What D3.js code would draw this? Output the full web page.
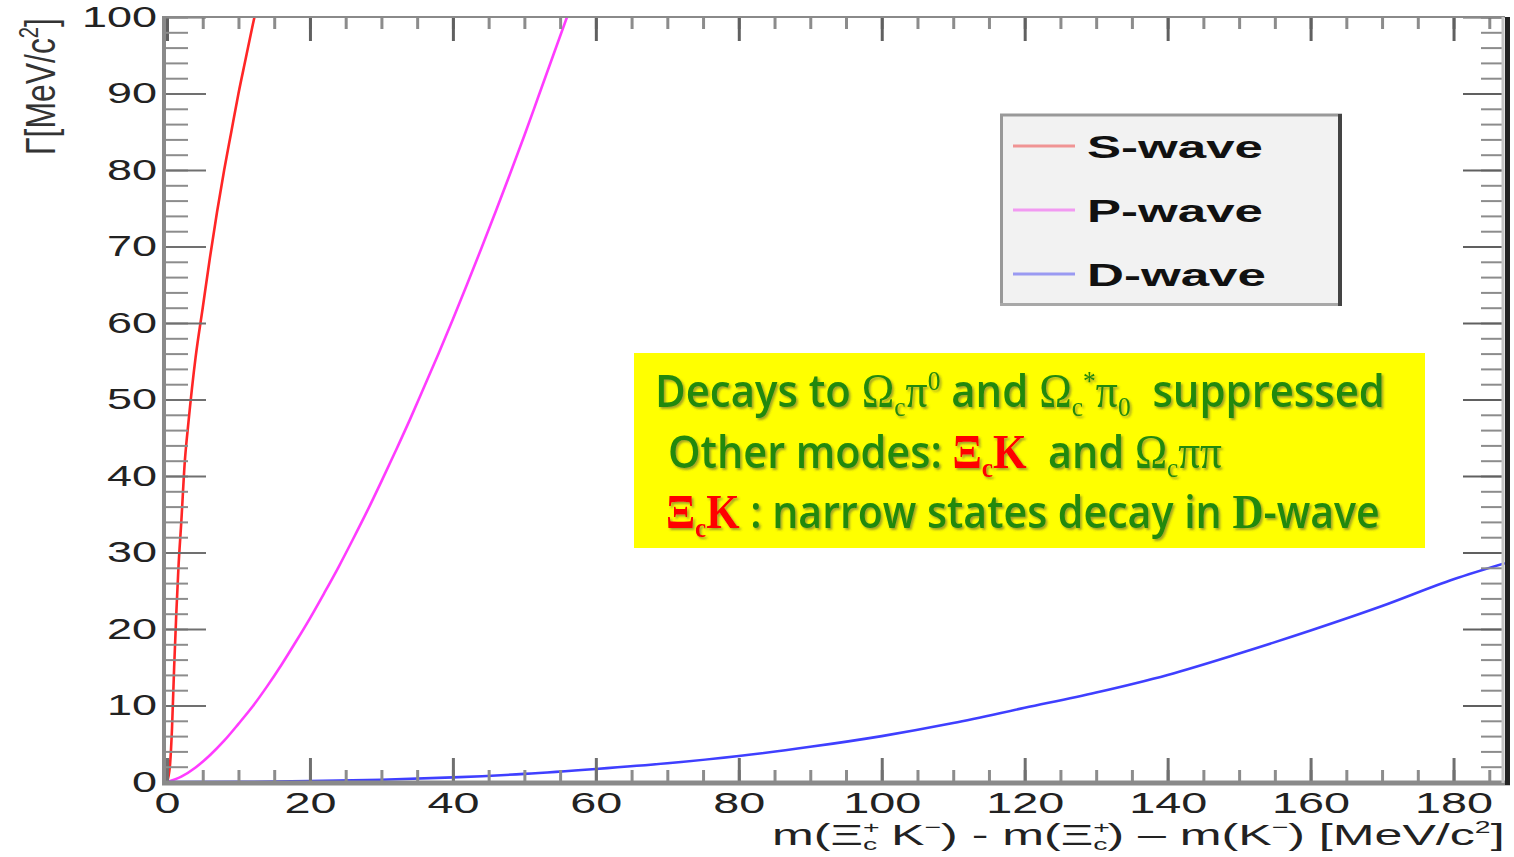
<!DOCTYPE html>
<meta charset="utf-8">
<title>Decay width vs Q</title>
<script src="https://cdn.jsdelivr.net/npm/d3@7"></script>
<style>
  body { margin: 0; background: #fff; }
  svg text { white-space: pre; }
</style>
<body>
<svg id="chart" width="1514" height="857"></svg>
<script>

// values (Q in MeV/c2, width in MeV/c2)
var sQ     = [0, 0.4, 0.7, 1.0, 1.3, 1.6, 2.0, 2.5, 3.0, 4.0, 5.0, 6.0, 7.0, 8.0, 9.0, 10.0, 11.0, 12.0, 12.6];
var sGamma = [0, 2, 7, 15, 22, 28, 34, 42, 47, 55.5, 62, 68.5, 74.5, 80, 85, 90, 94.5, 99, 101.5];

var pQ     = [0, 2, 4, 6, 8, 10, 12, 14, 16, 18, 20, 22, 24, 26, 28, 30, 32, 34, 36, 38, 40, 42, 44, 46, 48, 50, 52, 54, 56.2];
var pGamma = [0, 0.7, 1.9, 3.5, 5.4, 7.6, 9.9, 12.5, 15.3, 18.3, 21.4, 24.7, 28.1, 31.7, 35.4, 39.3, 43.3, 47.4, 51.7, 56.0, 60.5, 65.1, 69.8, 74.6, 79.5, 84.5, 89.7, 94.9, 100.6];

var dQ     = [0, 10, 20, 30, 40, 50, 60, 70, 80, 90, 100, 110, 120, 130, 140, 150, 160, 170, 180, 187.2];
var dGamma = [0, 0.02, 0.11, 0.3, 0.6, 1.06, 1.7, 2.45, 3.4, 4.6, 6.0, 7.7, 9.7, 11.7, 14.0, 16.8, 19.8, 23.0, 26.5, 28.6];

var seriesNames = ["S-wave", "P-wave", "D-wave"];
var xMajor = [0, 20, 40, 60, 80, 100, 120, 140, 160, 180];
var xTickLabels = ["0", "20", "40", "60", "80", "100", "120", "140", "160", "180"];
var yMajor = [0, 10, 20, 30, 40, 50, 60, 70, 80, 90, 100];
var yTickLabels = ["0", "10", "20", "30", "40", "50", "60", "70", "80", "90", "100"];
var xMinor = d3.range(0, 187, 5);
var yMinor = d3.range(0, 101, 2);

var svg = d3.select("#chart");

var x = d3.scaleLinear().domain([0, 187.2]).range([167, 1505]);
var y = d3.scaleLinear().domain([0, 100]).range([782, 17]);

var SANS = "'Liberation Sans', Arial, sans-serif";
var GREEN_SANS = "'Open Sans', 'DejaVu Sans', sans-serif";
var SERIF = "'Liberation Serif', 'Times New Roman', serif";

var defs = svg.append("defs");
defs.append("clipPath").attr("id", "plot")
  .append("rect").attr("x", 167).attr("y", 17).attr("width", 1338).attr("height", 765);
defs.append("filter").attr("id", "shadow")
    .attr("x", "-5%").attr("y", "-20%").attr("width", "110%").attr("height", "150%")
  .append("feDropShadow")
    .attr("dx", 2).attr("dy", 2).attr("stdDeviation", 1.2)
    .attr("flood-color", "#444").attr("flood-opacity", 0.5);

// stretch a text group so it spans [x0, x0+w]
function fitTo(g, x0, base, w) {
  var bb = g.node().getBBox();
  var k = w / bb.width;
  g.attr("transform", "translate(" + (x0 - bb.x * k) + "," + base + ") scale(" + k + ",1)");
}

// curves
var series = [
  {name: "S-wave", q: sQ, g: sGamma, color: "#ff2626", key: "#f09494"},
  {name: "P-wave", q: pQ, g: pGamma, color: "#ff3cff", key: "#f29af2"},
  {name: "D-wave", q: dQ, g: dGamma, color: "#3f3fff", key: "#9a9af2"}
];

var line = d3.line()
    .x(function(d) { return x(d[0]); })
    .y(function(d) { return y(d[1]); })
    .curve(d3.curveMonotoneX);

svg.append("g").attr("clip-path", "url(#plot)")
  .selectAll("path").data(series).join("path")
    .attr("d", function(s) { return line(d3.zip(s.q, s.g)); })
    .attr("fill", "none")
    .attr("stroke", function(s) { return s.color; })
    .attr("stroke-width", 2.6);

// tick marks on all four sides
function ticks(axis, values, size, transform, color, width) {
  var g = svg.append("g").attr("transform", transform)
      .call(axis.tickValues(values).tickSizeInner(size).tickSizeOuter(0).tickFormat(""));
  g.select(".domain").remove();
  g.selectAll("line").attr("stroke", color).attr("stroke-width", width);
  return g;
}
ticks(d3.axisBottom(x), xMinor, -12, "translate(0,782)", "#8c8c8c", 3);
ticks(d3.axisBottom(x), xMajor, -24, "translate(0,782)", "#707070", 3);
ticks(d3.axisTop(x), xMinor, -12, "translate(0,17)", "#8c8c8c", 3);
ticks(d3.axisTop(x), xMajor, -24, "translate(0,17)", "#606060", 3);
ticks(d3.axisLeft(y), yMinor, -22, "translate(166,0)", "#8c8c8c", 2);
ticks(d3.axisLeft(y), yMajor, -40, "translate(166,0)", "#707070", 2);
ticks(d3.axisRight(y), yMinor, -22, "translate(1503,0)", "#8c8c8c", 2);
ticks(d3.axisRight(y), yMajor, -40, "translate(1503,0)", "#606060", 2);

// frame
var frame = svg.append("g");
frame.append("line").attr("x1", 166).attr("x2", 1505).attr("y1", 17).attr("y2", 17)
  .attr("stroke", "#8a8a8a").attr("stroke-width", 2);
frame.append("line").attr("x1", 164).attr("x2", 164).attr("y1", 16).attr("y2", 785)
  .attr("stroke", "#8a8a8a").attr("stroke-width", 4);
frame.append("line").attr("x1", 162).attr("x2", 1510).attr("y1", 783).attr("y2", 783)
  .attr("stroke", "#8a8a8a").attr("stroke-width", 5);
frame.append("line").attr("x1", 1503).attr("x2", 1503).attr("y1", 17).attr("y2", 783)
  .attr("stroke", "#c4c4c4").attr("stroke-width", 3);
frame.append("line").attr("x1", 1507.5).attr("x2", 1507.5).attr("y1", 17).attr("y2", 785)
  .attr("stroke", "#222").attr("stroke-width", 5);

// tick labels
function labels(axis, values, texts, pad, transform, charW) {
  var g = svg.append("g").attr("transform", transform)
      .call(axis.tickValues(values).tickSize(0).tickPadding(pad)
        .tickFormat(function(d, i) { return texts[i]; }));
  g.select(".domain").remove();
  g.selectAll("line").remove();
  g.selectAll("text")
      .attr("font-family", SANS).attr("font-size", 29).attr("fill", "#222")
      .attr("textLength", function() { return this.textContent.length * charW; })
      .attr("lengthAdjust", "spacingAndGlyphs");
}
labels(d3.axisBottom(x), xMajor, xTickLabels, 10, "translate(0,782)", 26);
labels(d3.axisLeft(y), yMajor, yTickLabels, 9, "translate(166,0)", 25);

// y title
var yt = svg.append("g").attr("transform", "translate(55,18) scale(1.43,1) rotate(-90)");
var ytt = yt.append("text").attr("text-anchor", "end")
    .attr("font-family", SANS).attr("font-size", 30).attr("fill", "#333");
ytt.append("tspan").text("\u0393[MeV/c");
ytt.append("tspan").attr("font-size", 19).attr("dy", -12).text("2");
ytt.append("tspan").attr("dy", 12).text("]");
ytt.attr("transform", "scale(" + (137 / ytt.node().getBBox().width) + ",1)");

// x title
var xt = svg.append("g");
var xtt = xt.append("text").attr("font-family", SANS).attr("font-size", 30).attr("fill", "#222");
function xpart(txt, opt) {
  var t = xtt.append("tspan").text(txt);
  if (opt) {
    if (opt.size) t.attr("font-size", opt.size);
    if (opt.dy) t.attr("dy", opt.dy);
    if (opt.dx) t.attr("dx", opt.dx);
  }
}
xpart("m(\u039E");
xpart("+", {size: 17, dy: -12});
xpart("c", {size: 17, dy: 17, dx: -10});
xpart(" K", {dy: -5});
xpart("\u2212", {size: 17, dy: -12});
xpart(") - m(\u039E", {dy: 12});
xpart("+", {size: 17, dy: -12});
xpart("c", {size: 17, dy: 17, dx: -10});
xpart(") \u2013 m(K", {dy: -5});
xpart("\u2212", {size: 17, dy: -12});
xpart(") [MeV/c", {dy: 12});
xpart("2", {size: 17, dy: -12});
xpart("]", {dy: 12});
fitTo(xt, 772, 845, 733);

// legend
var legY = d3.scalePoint().domain(seriesNames).range([146, 274]);
var leg = svg.append("g");
leg.append("rect").attr("x", 1001).attr("y", 114).attr("width", 340).attr("height", 191).attr("fill", "#f2f2f2");
leg.append("line").attr("x1", 1000).attr("x2", 1342).attr("y1", 115).attr("y2", 115).attr("stroke", "#999").attr("stroke-width", 3);
leg.append("line").attr("x1", 1001.5).attr("x2", 1001.5).attr("y1", 114).attr("y2", 306).attr("stroke", "#999").attr("stroke-width", 3);
leg.append("line").attr("x1", 1000).attr("x2", 1342).attr("y1", 304.5).attr("y2", 304.5).attr("stroke", "#a8a8a8").attr("stroke-width", 3);
leg.append("line").attr("x1", 1340).attr("x2", 1340).attr("y1", 114).attr("y2", 306).attr("stroke", "#444").attr("stroke-width", 4);

var entry = leg.selectAll("g.entry").data(series).join("g").attr("class", "entry");
entry.append("line")
    .attr("x1", 1013).attr("x2", 1075)
    .attr("y1", function(s) { return legY(s.name); })
    .attr("y2", function(s) { return legY(s.name); })
    .attr("stroke", function(s) { return s.key; })
    .attr("stroke-width", 3);
entry.each(function(s) {
  var g = d3.select(this).append("g");
  g.append("text").attr("font-family", SANS).attr("font-weight", "bold")
    .attr("font-size", 32).attr("fill", "#111").text(s.name);
  fitTo(g, 1087, legY(s.name) + 11.5, s.name === "D-wave" ? 179 : 176);
});

// yellow note
var note = svg.append("g");
note.append("rect").attr("x", 634).attr("y", 353).attr("width", 791).attr("height", 195).attr("fill", "#ffff00");

var GREEN = "#23890a", RED = "#ff0000";
function noteLine(segs, x0, base, w) {
  var g = note.append("g");
  var t = g.append("text").attr("filter", "url(#shadow)");
  var cur = 0;
  segs.forEach(function(s) {
    var shift = s.sub ? 9 : s.sup ? -17 : 0;
    t.append("tspan")
      .attr("dy", shift - cur)
      .attr("font-family", s.serif ? SERIF : GREEN_SANS)
      .attr("font-weight", s.bold ? "bold" : (s.serif ? "normal" : 600))
      .attr("font-size", (s.sub || s.sup) ? 28 : (s.serif ? 48 : 46))
      .attr("fill", s.red ? RED : GREEN)
      .text(s.t);
    cur = shift;
  });
  fitTo(g, x0, base, w);
}

noteLine([
  {t: "Decays to "}, {t: "\u03A9", serif: 1}, {t: "c", serif: 1, sub: 1},
  {t: "\u03C0", serif: 1}, {t: "0", serif: 1, sup: 1},
  {t: " and "}, {t: "\u03A9", serif: 1}, {t: "c", serif: 1, sub: 1},
  {t: "*", serif: 1, sup: 1}, {t: "\u03C0", serif: 1}, {t: "0", serif: 1, sub: 1},
  {t: "  suppressed"}
], 655, 407, 730);

noteLine([
  {t: "Other modes: "}, {t: "\u039E", serif: 1, bold: 1, red: 1},
  {t: "c", serif: 1, bold: 1, red: 1, sub: 1}, {t: "K", serif: 1, bold: 1, red: 1},
  {t: "  and "}, {t: "\u03A9", serif: 1}, {t: "c", serif: 1, sub: 1},
  {t: "\u03C0\u03C0", serif: 1}
], 668, 468, 554);

noteLine([
  {t: "\u039E", serif: 1, bold: 1, red: 1}, {t: "c", serif: 1, bold: 1, red: 1, sub: 1},
  {t: "K", serif: 1, bold: 1, red: 1}, {t: " : narrow states decay in "},
  {t: "D", serif: 1, bold: 1}, {t: "-wave"}
], 666, 528, 714);

</script>
</body>
